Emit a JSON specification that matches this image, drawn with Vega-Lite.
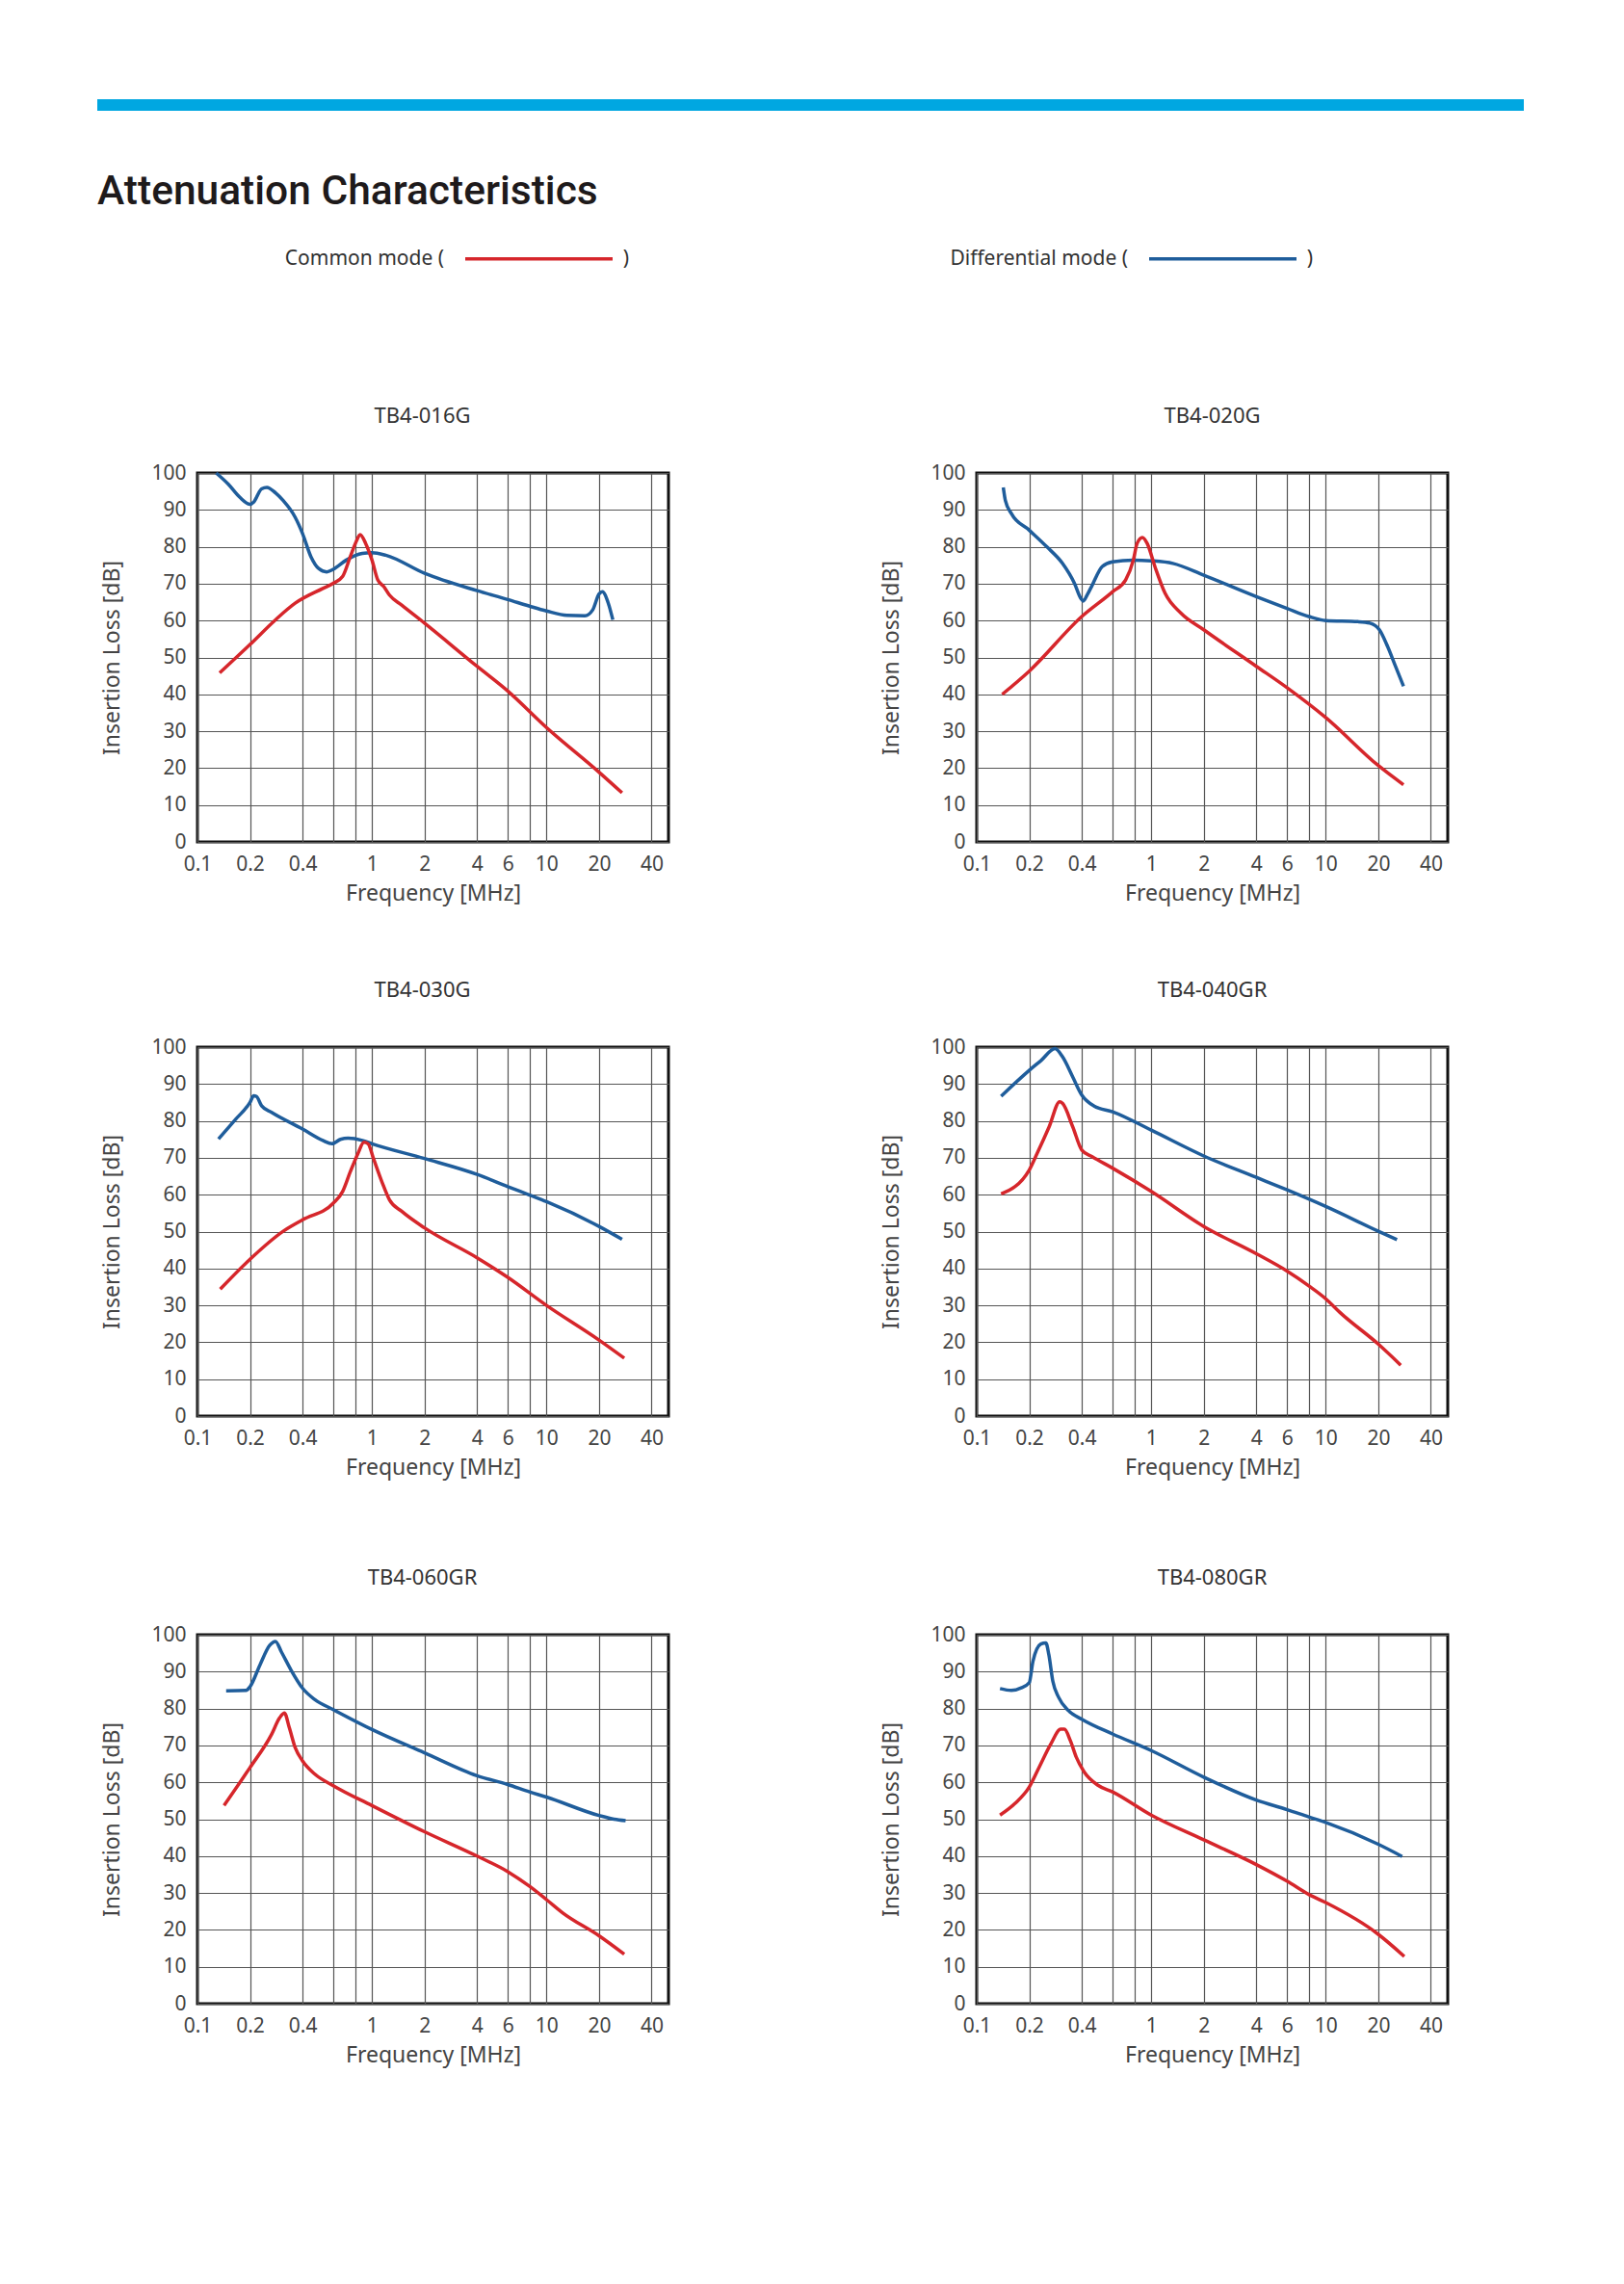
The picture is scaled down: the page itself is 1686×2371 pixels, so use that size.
{
  "$schema": "https://vega.github.io/schema/vega-lite/v6.json",
  "background": "white",
  "padding": {"left": 101, "top": 103, "right": 20, "bottom": 20},
  "config": {
    "font": "Noto Sans",
    "view": {"stroke": "#111111", "strokeWidth": 3},
    "axis": {"grid": true, "gridColor": "#555555", "gridWidth": 1.2, "domain": false, "ticks": false, "labelFontSize": 21, "labelColor": "#444444", "labelFont": "Noto Sans", "titleFontSize": 23, "titleFontWeight": "normal", "titleColor": "#444444", "titleFont": "Noto Sans", "labelFlush": false, "labelOverlap": false},
    "axisX": {"labelPadding": 12, "titlePadding": 9},
    "axisY": {"labelPadding": 12, "titlePadding": 28},
    "title": {"fontSize": 22, "fontWeight": "normal", "color": "#333333", "font": "Noto Sans", "offset": 36, "frame": "group", "anchor": "middle", "baseline": "bottom"},
    "line": {"strokeWidth": 3.5, "interpolate": "monotone"}
  },
  "datasets": {
    "curves": [
      {"model":"TB4-016G","mode":"Differential mode","f":0.128,"dB":100},
      {"model":"TB4-016G","mode":"Differential mode","f":0.15,"dB":97},
      {"model":"TB4-016G","mode":"Differential mode","f":0.175,"dB":93.4},
      {"model":"TB4-016G","mode":"Differential mode","f":0.2,"dB":91.5},
      {"model":"TB4-016G","mode":"Differential mode","f":0.21,"dB":92.1},
      {"model":"TB4-016G","mode":"Differential mode","f":0.233,"dB":95.7},
      {"model":"TB4-016G","mode":"Differential mode","f":0.25,"dB":96.1},
      {"model":"TB4-016G","mode":"Differential mode","f":0.28,"dB":94.6},
      {"model":"TB4-016G","mode":"Differential mode","f":0.31,"dB":92.5},
      {"model":"TB4-016G","mode":"Differential mode","f":0.363,"dB":88},
      {"model":"TB4-016G","mode":"Differential mode","f":0.4,"dB":83.6},
      {"model":"TB4-016G","mode":"Differential mode","f":0.447,"dB":77.3},
      {"model":"TB4-016G","mode":"Differential mode","f":0.495,"dB":74.1},
      {"model":"TB4-016G","mode":"Differential mode","f":0.55,"dB":73.2},
      {"model":"TB4-016G","mode":"Differential mode","f":0.6,"dB":73.9},
      {"model":"TB4-016G","mode":"Differential mode","f":0.713,"dB":76.4},
      {"model":"TB4-016G","mode":"Differential mode","f":0.879,"dB":78.2},
      {"model":"TB4-016G","mode":"Differential mode","f":1.0,"dB":78.4},
      {"model":"TB4-016G","mode":"Differential mode","f":1.2,"dB":77.7},
      {"model":"TB4-016G","mode":"Differential mode","f":2,"dB":72.8},
      {"model":"TB4-016G","mode":"Differential mode","f":4,"dB":68.1},
      {"model":"TB4-016G","mode":"Differential mode","f":6,"dB":65.7},
      {"model":"TB4-016G","mode":"Differential mode","f":8,"dB":63.9},
      {"model":"TB4-016G","mode":"Differential mode","f":10,"dB":62.6},
      {"model":"TB4-016G","mode":"Differential mode","f":13.1,"dB":61.4},
      {"model":"TB4-016G","mode":"Differential mode","f":16.6,"dB":61.3},
      {"model":"TB4-016G","mode":"Differential mode","f":18.4,"dB":62.9},
      {"model":"TB4-016G","mode":"Differential mode","f":20,"dB":67.2},
      {"model":"TB4-016G","mode":"Differential mode","f":20.9,"dB":67.8},
      {"model":"TB4-016G","mode":"Differential mode","f":22.6,"dB":64.7},
      {"model":"TB4-016G","mode":"Differential mode","f":24,"dB":60.2},

      {"model":"TB4-016G","mode":"Common mode","f":0.134,"dB":45.8},
      {"model":"TB4-016G","mode":"Common mode","f":0.2,"dB":53.5},
      {"model":"TB4-016G","mode":"Common mode","f":0.28,"dB":60.2},
      {"model":"TB4-016G","mode":"Common mode","f":0.363,"dB":64.7},
      {"model":"TB4-016G","mode":"Common mode","f":0.523,"dB":68.7},
      {"model":"TB4-016G","mode":"Common mode","f":0.6,"dB":70.1},
      {"model":"TB4-016G","mode":"Common mode","f":0.678,"dB":71.9},
      {"model":"TB4-016G","mode":"Common mode","f":0.751,"dB":77.3},
      {"model":"TB4-016G","mode":"Common mode","f":0.81,"dB":81.3},
      {"model":"TB4-016G","mode":"Common mode","f":0.855,"dB":83.3},
      {"model":"TB4-016G","mode":"Common mode","f":0.92,"dB":80.9},
      {"model":"TB4-016G","mode":"Common mode","f":1.0,"dB":76.4},
      {"model":"TB4-016G","mode":"Common mode","f":1.08,"dB":71},
      {"model":"TB4-016G","mode":"Common mode","f":1.17,"dB":69.2},
      {"model":"TB4-016G","mode":"Common mode","f":1.26,"dB":66.9},
      {"model":"TB4-016G","mode":"Common mode","f":1.48,"dB":64.2},
      {"model":"TB4-016G","mode":"Common mode","f":2,"dB":59.3},
      {"model":"TB4-016G","mode":"Common mode","f":4,"dB":47.6},
      {"model":"TB4-016G","mode":"Common mode","f":6,"dB":40.9},
      {"model":"TB4-016G","mode":"Common mode","f":10,"dB":31},
      {"model":"TB4-016G","mode":"Common mode","f":20,"dB":18.9},
      {"model":"TB4-016G","mode":"Common mode","f":27.1,"dB":13.3},

      {"model":"TB4-020G","mode":"Differential mode","f":0.142,"dB":96.1},
      {"model":"TB4-020G","mode":"Differential mode","f":0.146,"dB":92.5},
      {"model":"TB4-020G","mode":"Differential mode","f":0.158,"dB":89},
      {"model":"TB4-020G","mode":"Differential mode","f":0.2,"dB":84.5},
      {"model":"TB4-020G","mode":"Differential mode","f":0.252,"dB":80},
      {"model":"TB4-020G","mode":"Differential mode","f":0.31,"dB":75.5},
      {"model":"TB4-020G","mode":"Differential mode","f":0.363,"dB":70.1},
      {"model":"TB4-020G","mode":"Differential mode","f":0.395,"dB":66},
      {"model":"TB4-020G","mode":"Differential mode","f":0.408,"dB":65.3},
      {"model":"TB4-020G","mode":"Differential mode","f":0.43,"dB":67},
      {"model":"TB4-020G","mode":"Differential mode","f":0.458,"dB":69.5},
      {"model":"TB4-020G","mode":"Differential mode","f":0.523,"dB":74.6},
      {"model":"TB4-020G","mode":"Differential mode","f":0.6,"dB":75.9},
      {"model":"TB4-020G","mode":"Differential mode","f":0.79,"dB":76.4},
      {"model":"TB4-020G","mode":"Differential mode","f":1,"dB":76.2},
      {"model":"TB4-020G","mode":"Differential mode","f":1.33,"dB":75.5},
      {"model":"TB4-020G","mode":"Differential mode","f":2,"dB":72.3},
      {"model":"TB4-020G","mode":"Differential mode","f":4,"dB":66.5},
      {"model":"TB4-020G","mode":"Differential mode","f":6,"dB":63.3},
      {"model":"TB4-020G","mode":"Differential mode","f":8,"dB":61.1},
      {"model":"TB4-020G","mode":"Differential mode","f":10,"dB":60},
      {"model":"TB4-020G","mode":"Differential mode","f":15.3,"dB":59.7},
      {"model":"TB4-020G","mode":"Differential mode","f":17.9,"dB":59.3},
      {"model":"TB4-020G","mode":"Differential mode","f":20.3,"dB":57.5},
      {"model":"TB4-020G","mode":"Differential mode","f":22.6,"dB":53},
      {"model":"TB4-020G","mode":"Differential mode","f":25.1,"dB":47.6},
      {"model":"TB4-020G","mode":"Differential mode","f":27.9,"dB":42.2},

      {"model":"TB4-020G","mode":"Common mode","f":0.14,"dB":40},
      {"model":"TB4-020G","mode":"Common mode","f":0.2,"dB":46.3},
      {"model":"TB4-020G","mode":"Common mode","f":0.4,"dB":61.1},
      {"model":"TB4-020G","mode":"Common mode","f":0.6,"dB":67.8},
      {"model":"TB4-020G","mode":"Common mode","f":0.713,"dB":71},
      {"model":"TB4-020G","mode":"Common mode","f":0.79,"dB":76.4},
      {"model":"TB4-020G","mode":"Common mode","f":0.83,"dB":80.9},
      {"model":"TB4-020G","mode":"Common mode","f":0.89,"dB":82.5},
      {"model":"TB4-020G","mode":"Common mode","f":0.948,"dB":80.9},
      {"model":"TB4-020G","mode":"Common mode","f":1.05,"dB":74.6},
      {"model":"TB4-020G","mode":"Common mode","f":1.2,"dB":67.4},
      {"model":"TB4-020G","mode":"Common mode","f":1.48,"dB":62},
      {"model":"TB4-020G","mode":"Common mode","f":2,"dB":57.5},
      {"model":"TB4-020G","mode":"Common mode","f":4,"dB":47.6},
      {"model":"TB4-020G","mode":"Common mode","f":6,"dB":41.8},
      {"model":"TB4-020G","mode":"Common mode","f":10,"dB":33.7},
      {"model":"TB4-020G","mode":"Common mode","f":20,"dB":20.7},
      {"model":"TB4-020G","mode":"Common mode","f":27.9,"dB":15.5},

      {"model":"TB4-030G","mode":"Differential mode","f":0.132,"dB":75.1},
      {"model":"TB4-030G","mode":"Differential mode","f":0.166,"dB":80.5},
      {"model":"TB4-030G","mode":"Differential mode","f":0.2,"dB":85},
      {"model":"TB4-030G","mode":"Differential mode","f":0.21,"dB":86.8},
      {"model":"TB4-030G","mode":"Differential mode","f":0.218,"dB":86.6},
      {"model":"TB4-030G","mode":"Differential mode","f":0.233,"dB":84.1},
      {"model":"TB4-030G","mode":"Differential mode","f":0.266,"dB":82.3},
      {"model":"TB4-030G","mode":"Differential mode","f":0.4,"dB":77.8},
      {"model":"TB4-030G","mode":"Differential mode","f":0.523,"dB":74.7},
      {"model":"TB4-030G","mode":"Differential mode","f":0.59,"dB":73.8},
      {"model":"TB4-030G","mode":"Differential mode","f":0.66,"dB":75},
      {"model":"TB4-030G","mode":"Differential mode","f":0.73,"dB":75.3},
      {"model":"TB4-030G","mode":"Differential mode","f":0.88,"dB":74.7},
      {"model":"TB4-030G","mode":"Differential mode","f":1,"dB":73.8},
      {"model":"TB4-030G","mode":"Differential mode","f":2,"dB":69.8},
      {"model":"TB4-030G","mode":"Differential mode","f":4,"dB":65.5},
      {"model":"TB4-030G","mode":"Differential mode","f":6,"dB":62.2},
      {"model":"TB4-030G","mode":"Differential mode","f":8,"dB":59.9},
      {"model":"TB4-030G","mode":"Differential mode","f":10,"dB":58.1},
      {"model":"TB4-030G","mode":"Differential mode","f":20,"dB":51.4},
      {"model":"TB4-030G","mode":"Differential mode","f":27.1,"dB":47.9},

      {"model":"TB4-030G","mode":"Common mode","f":0.135,"dB":34.4},
      {"model":"TB4-030G","mode":"Common mode","f":0.2,"dB":42.5},
      {"model":"TB4-030G","mode":"Common mode","f":0.31,"dB":50.1},
      {"model":"TB4-030G","mode":"Common mode","f":0.4,"dB":53.2},
      {"model":"TB4-030G","mode":"Common mode","f":0.6,"dB":57.7},
      {"model":"TB4-030G","mode":"Common mode","f":0.678,"dB":60.8},
      {"model":"TB4-030G","mode":"Common mode","f":0.751,"dB":66.2},
      {"model":"TB4-030G","mode":"Common mode","f":0.83,"dB":71.1},
      {"model":"TB4-030G","mode":"Common mode","f":0.9,"dB":74.2},
      {"model":"TB4-030G","mode":"Common mode","f":0.95,"dB":73.8},
      {"model":"TB4-030G","mode":"Common mode","f":1.02,"dB":69.8},
      {"model":"TB4-030G","mode":"Common mode","f":1.14,"dB":63.5},
      {"model":"TB4-030G","mode":"Common mode","f":1.26,"dB":58.6},
      {"model":"TB4-030G","mode":"Common mode","f":1.48,"dB":55.5},
      {"model":"TB4-030G","mode":"Common mode","f":2,"dB":51},
      {"model":"TB4-030G","mode":"Common mode","f":4,"dB":42.9},
      {"model":"TB4-030G","mode":"Common mode","f":6,"dB":37.6},
      {"model":"TB4-030G","mode":"Common mode","f":10,"dB":30},
      {"model":"TB4-030G","mode":"Common mode","f":20,"dB":20.6},
      {"model":"TB4-030G","mode":"Common mode","f":27.9,"dB":15.7},

      {"model":"TB4-040GR","mode":"Differential mode","f":0.138,"dB":86.7},
      {"model":"TB4-040GR","mode":"Differential mode","f":0.2,"dB":93.7},
      {"model":"TB4-040GR","mode":"Differential mode","f":0.234,"dB":96.4},
      {"model":"TB4-040GR","mode":"Differential mode","f":0.281,"dB":99.6},
      {"model":"TB4-040GR","mode":"Differential mode","f":0.311,"dB":97.3},
      {"model":"TB4-040GR","mode":"Differential mode","f":0.355,"dB":91.9},
      {"model":"TB4-040GR","mode":"Differential mode","f":0.4,"dB":87},
      {"model":"TB4-040GR","mode":"Differential mode","f":0.471,"dB":84},
      {"model":"TB4-040GR","mode":"Differential mode","f":0.6,"dB":82.5},
      {"model":"TB4-040GR","mode":"Differential mode","f":1,"dB":77.5},
      {"model":"TB4-040GR","mode":"Differential mode","f":2,"dB":70.5},
      {"model":"TB4-040GR","mode":"Differential mode","f":4,"dB":64.7},
      {"model":"TB4-040GR","mode":"Differential mode","f":6,"dB":61.3},
      {"model":"TB4-040GR","mode":"Differential mode","f":10,"dB":56.8},
      {"model":"TB4-040GR","mode":"Differential mode","f":20,"dB":50.1},
      {"model":"TB4-040GR","mode":"Differential mode","f":25.6,"dB":47.8},

      {"model":"TB4-040GR","mode":"Common mode","f":0.138,"dB":60.2},
      {"model":"TB4-040GR","mode":"Common mode","f":0.2,"dB":66.7},
      {"model":"TB4-040GR","mode":"Common mode","f":0.222,"dB":71.2},
      {"model":"TB4-040GR","mode":"Common mode","f":0.26,"dB":78.4},
      {"model":"TB4-040GR","mode":"Common mode","f":0.299,"dB":85.2},
      {"model":"TB4-040GR","mode":"Common mode","f":0.311,"dB":84.7},
      {"model":"TB4-040GR","mode":"Common mode","f":0.355,"dB":78.4},
      {"model":"TB4-040GR","mode":"Common mode","f":0.4,"dB":72.1},
      {"model":"TB4-040GR","mode":"Common mode","f":0.459,"dB":70.3},
      {"model":"TB4-040GR","mode":"Common mode","f":0.6,"dB":67.2},
      {"model":"TB4-040GR","mode":"Common mode","f":1,"dB":60.9},
      {"model":"TB4-040GR","mode":"Common mode","f":2,"dB":51.4},
      {"model":"TB4-040GR","mode":"Common mode","f":4,"dB":44},
      {"model":"TB4-040GR","mode":"Common mode","f":6,"dB":39.3},
      {"model":"TB4-040GR","mode":"Common mode","f":8,"dB":35.3},
      {"model":"TB4-040GR","mode":"Common mode","f":10,"dB":31.8},
      {"model":"TB4-040GR","mode":"Common mode","f":12.05,"dB":28.1},
      {"model":"TB4-040GR","mode":"Common mode","f":20,"dB":19.5},
      {"model":"TB4-040GR","mode":"Common mode","f":26.9,"dB":13.8},

      {"model":"TB4-060GR","mode":"Differential mode","f":0.146,"dB":84.8},
      {"model":"TB4-060GR","mode":"Differential mode","f":0.19,"dB":84.9},
      {"model":"TB4-060GR","mode":"Differential mode","f":0.2,"dB":85.9},
      {"model":"TB4-060GR","mode":"Differential mode","f":0.228,"dB":91.8},
      {"model":"TB4-060GR","mode":"Differential mode","f":0.259,"dB":97.1},
      {"model":"TB4-060GR","mode":"Differential mode","f":0.28,"dB":98.2},
      {"model":"TB4-060GR","mode":"Differential mode","f":0.303,"dB":95.3},
      {"model":"TB4-060GR","mode":"Differential mode","f":0.344,"dB":90.4},
      {"model":"TB4-060GR","mode":"Differential mode","f":0.4,"dB":85.5},
      {"model":"TB4-060GR","mode":"Differential mode","f":0.471,"dB":82.4},
      {"model":"TB4-060GR","mode":"Differential mode","f":0.6,"dB":79.7},
      {"model":"TB4-060GR","mode":"Differential mode","f":1,"dB":74.3},
      {"model":"TB4-060GR","mode":"Differential mode","f":2,"dB":68},
      {"model":"TB4-060GR","mode":"Differential mode","f":4,"dB":61.8},
      {"model":"TB4-060GR","mode":"Differential mode","f":6,"dB":59.4},
      {"model":"TB4-060GR","mode":"Differential mode","f":8,"dB":57.4},
      {"model":"TB4-060GR","mode":"Differential mode","f":10,"dB":56},
      {"model":"TB4-060GR","mode":"Differential mode","f":20,"dB":51},
      {"model":"TB4-060GR","mode":"Differential mode","f":24.4,"dB":50},
      {"model":"TB4-060GR","mode":"Differential mode","f":28.4,"dB":49.6},

      {"model":"TB4-060GR","mode":"Common mode","f":0.142,"dB":53.7},
      {"model":"TB4-060GR","mode":"Common mode","f":0.2,"dB":64},
      {"model":"TB4-060GR","mode":"Common mode","f":0.266,"dB":73},
      {"model":"TB4-060GR","mode":"Common mode","f":0.295,"dB":77.4},
      {"model":"TB4-060GR","mode":"Common mode","f":0.315,"dB":78.8},
      {"model":"TB4-060GR","mode":"Common mode","f":0.336,"dB":74.8},
      {"model":"TB4-060GR","mode":"Common mode","f":0.363,"dB":69.4},
      {"model":"TB4-060GR","mode":"Common mode","f":0.4,"dB":65.8},
      {"model":"TB4-060GR","mode":"Common mode","f":0.471,"dB":62.2},
      {"model":"TB4-060GR","mode":"Common mode","f":0.6,"dB":59.1},
      {"model":"TB4-060GR","mode":"Common mode","f":1,"dB":53.7},
      {"model":"TB4-060GR","mode":"Common mode","f":2,"dB":46.6},
      {"model":"TB4-060GR","mode":"Common mode","f":4,"dB":40},
      {"model":"TB4-060GR","mode":"Common mode","f":6,"dB":35.8},
      {"model":"TB4-060GR","mode":"Common mode","f":8,"dB":31.8},
      {"model":"TB4-060GR","mode":"Common mode","f":10,"dB":28.2},
      {"model":"TB4-060GR","mode":"Common mode","f":12.4,"dB":24.6},
      {"model":"TB4-060GR","mode":"Common mode","f":20,"dB":18.4},
      {"model":"TB4-060GR","mode":"Common mode","f":27.9,"dB":13.4},

      {"model":"TB4-080GR","mode":"Differential mode","f":0.136,"dB":85.4},
      {"model":"TB4-080GR","mode":"Differential mode","f":0.158,"dB":84.9},
      {"model":"TB4-080GR","mode":"Differential mode","f":0.18,"dB":85.6},
      {"model":"TB4-080GR","mode":"Differential mode","f":0.2,"dB":87},
      {"model":"TB4-080GR","mode":"Differential mode","f":0.21,"dB":92.8},
      {"model":"TB4-080GR","mode":"Differential mode","f":0.233,"dB":97.5},
      {"model":"TB4-080GR","mode":"Differential mode","f":0.249,"dB":97.8},
      {"model":"TB4-080GR","mode":"Differential mode","f":0.259,"dB":94.6},
      {"model":"TB4-080GR","mode":"Differential mode","f":0.273,"dB":87.4},
      {"model":"TB4-080GR","mode":"Differential mode","f":0.295,"dB":83},
      {"model":"TB4-080GR","mode":"Differential mode","f":0.336,"dB":79.4},
      {"model":"TB4-080GR","mode":"Differential mode","f":0.4,"dB":77.1},
      {"model":"TB4-080GR","mode":"Differential mode","f":0.6,"dB":73.1},
      {"model":"TB4-080GR","mode":"Differential mode","f":1,"dB":68.6},
      {"model":"TB4-080GR","mode":"Differential mode","f":2,"dB":61.4},
      {"model":"TB4-080GR","mode":"Differential mode","f":4,"dB":55.2},
      {"model":"TB4-080GR","mode":"Differential mode","f":6,"dB":52.6},
      {"model":"TB4-080GR","mode":"Differential mode","f":8,"dB":50.6},
      {"model":"TB4-080GR","mode":"Differential mode","f":10,"dB":49.1},
      {"model":"TB4-080GR","mode":"Differential mode","f":20,"dB":43.2},
      {"model":"TB4-080GR","mode":"Differential mode","f":27.4,"dB":39.9},

      {"model":"TB4-080GR","mode":"Common mode","f":0.136,"dB":51.1},
      {"model":"TB4-080GR","mode":"Common mode","f":0.166,"dB":54.3},
      {"model":"TB4-080GR","mode":"Common mode","f":0.2,"dB":58.7},
      {"model":"TB4-080GR","mode":"Common mode","f":0.228,"dB":64.1},
      {"model":"TB4-080GR","mode":"Common mode","f":0.266,"dB":70.4},
      {"model":"TB4-080GR","mode":"Common mode","f":0.303,"dB":74.4},
      {"model":"TB4-080GR","mode":"Common mode","f":0.318,"dB":74.4},
      {"model":"TB4-080GR","mode":"Common mode","f":0.344,"dB":71.3},
      {"model":"TB4-080GR","mode":"Common mode","f":0.372,"dB":66.8},
      {"model":"TB4-080GR","mode":"Common mode","f":0.413,"dB":62.8},
      {"model":"TB4-080GR","mode":"Common mode","f":0.495,"dB":59.2},
      {"model":"TB4-080GR","mode":"Common mode","f":0.6,"dB":57.4},
      {"model":"TB4-080GR","mode":"Common mode","f":1,"dB":51.1},
      {"model":"TB4-080GR","mode":"Common mode","f":2,"dB":44.4},
      {"model":"TB4-080GR","mode":"Common mode","f":4,"dB":37.7},
      {"model":"TB4-080GR","mode":"Common mode","f":6,"dB":33.2},
      {"model":"TB4-080GR","mode":"Common mode","f":8,"dB":29.6},
      {"model":"TB4-080GR","mode":"Common mode","f":10,"dB":27.4},
      {"model":"TB4-080GR","mode":"Common mode","f":20,"dB":18.8},
      {"model":"TB4-080GR","mode":"Common mode","f":28.2,"dB":12.8}
    ]
  },
  "spacing": 198,
  "vconcat": [
    {
      "width": 1481,
      "height": 12,
      "data": {"values": [{"band": "header"}]},
      "mark": {"type": "rect", "color": "#00a7e1"},
      "encoding": {},
      "view": {"stroke": null},
      "title": {"text": "Attenuation Characteristics", "orient": "bottom", "anchor": "start", "frame": "group", "baseline": "top", "offset": 63, "fontSize": 42.5, "font": "Roboto", "fontWeight": 500, "color": "#1e1a1b"}
    },
    {
      "spacing": 2,
      "hconcat": [
        {
          "width": 1,
          "height": 1,
          "data": {"values": []},
          "mark": "point",
          "view": {"stroke": null}
        },
        {
          "spacing": 74,
          "vconcat": [
            {
              "spacing": 217,
              "hconcat": [
                {
                  "width": 489, "height": 383,
                  "title": {"text": "TB4-016G", "dx": -11},
                  "data": {"name": "curves"},
                  "transform": [{"filter": "datum.model == 'TB4-016G'"}],
                  "mark": {"type": "line", "interpolate": "monotone", "strokeWidth": 3.5},
                  "encoding": {
                    "x": {"field": "f", "type": "quantitative", "scale": {"type": "log", "domain": [0.1, 50], "nice": false}, "axis": {"values": [0.1,0.2,0.4,0.6,0.8,1,2,4,6,8,10,20,40], "labelExpr": "(datum.value == 0.6 || datum.value == 0.8 || datum.value == 8) ? '' : format(datum.value, '~g')", "title": "Frequency [MHz]"}},
                    "y": {"field": "dB", "type": "quantitative", "scale": {"domain": [0, 100], "nice": false}, "axis": {"values": [0,10,20,30,40,50,60,70,80,90,100], "title": "Insertion Loss [dB]"}},
                    "color": {"field": "mode", "type": "nominal", "scale": {"domain": ["Common mode", "Differential mode"], "range": ["#d6262b", "#1f5d9b"]}, "legend": {"title": null, "orient": "none", "legendX": 380, "legendY": 87, "direction": "horizontal", "symbolType": "stroke", "symbolSize": 23409, "symbolStrokeWidth": 4, "labelAlign": "right", "labelOffset": 15, "labelFontSize": 21, "labelFont": "Noto Sans", "labelColor": "#333333", "labelLimit": 0, "columnPadding": 333, "gridAlign": "each", "padding": 0, "labelExpr": "datum.label + ' (\u00a0\u00a0\u00a0\u00a0\u00a0\u00a0\u00a0\u00a0\u00a0\u00a0\u00a0\u00a0\u00a0\u00a0\u00a0\u00a0\u00a0\u00a0\u00a0\u00a0\u00a0\u00a0\u00a0\u00a0\u00a0\u00a0\u00a0\u00a0\u00a0\u00a0\u00a0\u00a0\u00a0\u00a0)'"}}
                  }
                },
                {
                  "width": 489, "height": 383,
                  "title": {"text": "TB4-020G"},
                  "data": {"name": "curves"},
                  "transform": [{"filter": "datum.model == 'TB4-020G'"}],
                  "mark": {"type": "line", "interpolate": "monotone", "strokeWidth": 3.5},
                  "encoding": {
                    "x": {"field": "f", "type": "quantitative", "scale": {"type": "log", "domain": [0.1, 50], "nice": false}, "axis": {"values": [0.1,0.2,0.4,0.6,0.8,1,2,4,6,8,10,20,40], "labelExpr": "(datum.value == 0.6 || datum.value == 0.8 || datum.value == 8) ? '' : format(datum.value, '~g')", "title": "Frequency [MHz]"}},
                    "y": {"field": "dB", "type": "quantitative", "scale": {"domain": [0, 100], "nice": false}, "axis": {"values": [0,10,20,30,40,50,60,70,80,90,100], "title": "Insertion Loss [dB]"}},
                    "color": {"field": "mode", "type": "nominal", "scale": {"domain": ["Common mode", "Differential mode"], "range": ["#d6262b", "#1f5d9b"]}}
                  }
                }
              ]
            },
            {
              "spacing": 88,
              "vconcat": [
                {
                  "spacing": 217,
                  "hconcat": [
                    {
                      "width": 489, "height": 383,
                      "title": {"text": "TB4-030G", "dx": -11},
                      "data": {"name": "curves"},
                      "transform": [{"filter": "datum.model == 'TB4-030G'"}],
                      "mark": {"type": "line", "interpolate": "monotone", "strokeWidth": 3.5},
                      "encoding": {
                        "x": {"field": "f", "type": "quantitative", "scale": {"type": "log", "domain": [0.1, 50], "nice": false}, "axis": {"values": [0.1,0.2,0.4,0.6,0.8,1,2,4,6,8,10,20,40], "labelExpr": "(datum.value == 0.6 || datum.value == 0.8 || datum.value == 8) ? '' : format(datum.value, '~g')", "title": "Frequency [MHz]"}},
                        "y": {"field": "dB", "type": "quantitative", "scale": {"domain": [0, 100], "nice": false}, "axis": {"values": [0,10,20,30,40,50,60,70,80,90,100], "title": "Insertion Loss [dB]"}},
                        "color": {"field": "mode", "type": "nominal", "scale": {"domain": ["Common mode", "Differential mode"], "range": ["#d6262b", "#1f5d9b"]}}
                      }
                    },
                    {
                      "width": 489, "height": 383,
                      "title": {"text": "TB4-040GR"},
                      "data": {"name": "curves"},
                      "transform": [{"filter": "datum.model == 'TB4-040GR'"}],
                      "mark": {"type": "line", "interpolate": "monotone", "strokeWidth": 3.5},
                      "encoding": {
                        "x": {"field": "f", "type": "quantitative", "scale": {"type": "log", "domain": [0.1, 50], "nice": false}, "axis": {"values": [0.1,0.2,0.4,0.6,0.8,1,2,4,6,8,10,20,40], "labelExpr": "(datum.value == 0.6 || datum.value == 0.8 || datum.value == 8) ? '' : format(datum.value, '~g')", "title": "Frequency [MHz]"}},
                        "y": {"field": "dB", "type": "quantitative", "scale": {"domain": [0, 100], "nice": false}, "axis": {"values": [0,10,20,30,40,50,60,70,80,90,100], "title": "Insertion Loss [dB]"}},
                        "color": {"field": "mode", "type": "nominal", "scale": {"domain": ["Common mode", "Differential mode"], "range": ["#d6262b", "#1f5d9b"]}}
                      }
                    }
                  ]
                },
                {
                  "spacing": 217,
                  "hconcat": [
                    {
                      "width": 489, "height": 383,
                      "title": {"text": "TB4-060GR", "dx": -11},
                      "data": {"name": "curves"},
                      "transform": [{"filter": "datum.model == 'TB4-060GR'"}],
                      "mark": {"type": "line", "interpolate": "monotone", "strokeWidth": 3.5},
                      "encoding": {
                        "x": {"field": "f", "type": "quantitative", "scale": {"type": "log", "domain": [0.1, 50], "nice": false}, "axis": {"values": [0.1,0.2,0.4,0.6,0.8,1,2,4,6,8,10,20,40], "labelExpr": "(datum.value == 0.6 || datum.value == 0.8 || datum.value == 8) ? '' : format(datum.value, '~g')", "title": "Frequency [MHz]"}},
                        "y": {"field": "dB", "type": "quantitative", "scale": {"domain": [0, 100], "nice": false}, "axis": {"values": [0,10,20,30,40,50,60,70,80,90,100], "title": "Insertion Loss [dB]"}},
                        "color": {"field": "mode", "type": "nominal", "scale": {"domain": ["Common mode", "Differential mode"], "range": ["#d6262b", "#1f5d9b"]}}
                      }
                    },
                    {
                      "width": 489, "height": 383,
                      "title": {"text": "TB4-080GR"},
                      "data": {"name": "curves"},
                      "transform": [{"filter": "datum.model == 'TB4-080GR'"}],
                      "mark": {"type": "line", "interpolate": "monotone", "strokeWidth": 3.5},
                      "encoding": {
                        "x": {"field": "f", "type": "quantitative", "scale": {"type": "log", "domain": [0.1, 50], "nice": false}, "axis": {"values": [0.1,0.2,0.4,0.6,0.8,1,2,4,6,8,10,20,40], "labelExpr": "(datum.value == 0.6 || datum.value == 0.8 || datum.value == 8) ? '' : format(datum.value, '~g')", "title": "Frequency [MHz]"}},
                        "y": {"field": "dB", "type": "quantitative", "scale": {"domain": [0, 100], "nice": false}, "axis": {"values": [0,10,20,30,40,50,60,70,80,90,100], "title": "Insertion Loss [dB]"}},
                        "color": {"field": "mode", "type": "nominal", "scale": {"domain": ["Common mode", "Differential mode"], "range": ["#d6262b", "#1f5d9b"]}}
                      }
                    }
                  ]
                }
              ]
            }
          ]
        }
      ]
    }
  ]
}
